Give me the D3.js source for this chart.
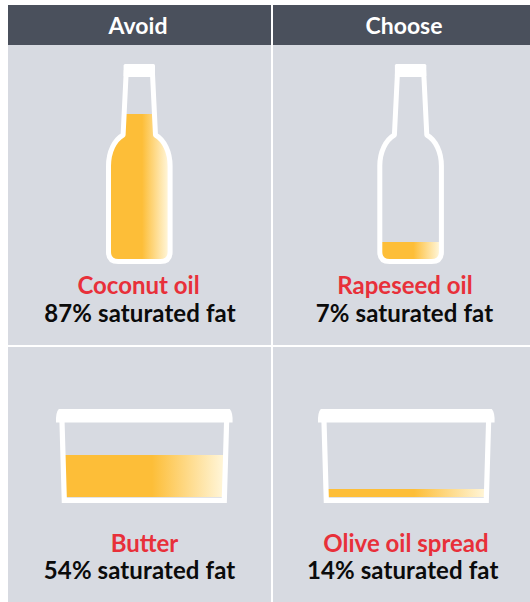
<!DOCTYPE html>
<html>
<head>
<meta charset="utf-8">
<script src="https://cdn.jsdelivr.net/npm/d3@7"></script>
<style>
  html, body { margin: 0; padding: 0; background: #fff; }
  svg { display: block; }
  text { font-family: Lato, sans-serif; text-anchor: middle; }
</style>
</head>
<body>
<div id="chart"></div>
<script>
const columns = ["Avoid", "Choose"];
const bottleFoods = ["Coconut oil", "Rapeseed oil"];
const bottleFat = [87, 7];
const tubFoods = ["Butter", "Olive oil spread"];
const tubFat = [54, 14];

const width = 530, height = 602;
const orange = "#fdbe38", red = "#e8303a", panel = "#d7dae1", dark = "#4a505c", ink = "#0b0b0b";

// fill levels are not quite proportional in the original, so the scales are piecewise
const bottleY = d3.scaleLinear().domain([0, 7, 87]).range([259, 242, 114]);
const tubY = d3.scaleLinear().domain([0, 14, 54]).range([497, 489, 455]);

const svg = d3.select("#chart").append("svg")
    .attr("width", width)
    .attr("height", height);

const defs = svg.append("defs");

// background panels
const colX = [8, 273], colW = [263, 257];
const rowY = [45, 347], rowH = [300, 255];

columns.forEach((c, i) => {
    svg.append("rect").attr("x", colX[i]).attr("y", 5)
        .attr("width", colW[i]).attr("height", 40).attr("fill", dark);
    rowY.forEach((y, j) => {
        svg.append("rect").attr("x", colX[i]).attr("y", y)
            .attr("width", colW[i]).attr("height", rowH[j]).attr("fill", panel);
    });
});

const headerX = [138, 404];
svg.selectAll(".head")
    .data(columns)
    .enter().append("text")
    .attr("class", "head")
    .attr("x", (d, i) => headerX[i])
    .attr("y", 33.5)
    .attr("fill", "#fff")
    .style("font-size", "23px")
    .style("font-weight", 700)
    .text(d => d);

function bottlePath(cx) {
    const p = d3.path();
    p.moveTo(cx - 13, 70);
    p.lineTo(cx - 16.2, 135);
    p.bezierCurveTo(cx - 25, 140, cx - 30.8, 152, cx - 30.8, 166);
    p.lineTo(cx - 30.8, 252);
    p.quadraticCurveTo(cx - 30.8, 261.5, cx - 21, 261.5);
    p.lineTo(cx + 21, 261.5);
    p.quadraticCurveTo(cx + 30.8, 261.5, cx + 30.8, 252);
    p.lineTo(cx + 30.8, 166);
    p.bezierCurveTo(cx + 30.8, 152, cx + 25, 140, cx + 16.2, 135);
    p.lineTo(cx + 13, 70);
    return p.toString();
}

function tubPath(cx) {
    const p = d3.path();
    p.moveTo(cx - 82.5, 415);
    p.lineTo(cx - 80, 500.3);
    p.lineTo(cx + 80, 500.3);
    p.lineTo(cx + 82.5, 415);
    return p.toString();
}

function lidPath(cx) {
    const p = d3.path();
    p.moveTo(cx - 88.3, 422.5);
    p.quadraticCurveTo(cx - 88.6, 412, cx - 85.5, 409);
    p.lineTo(cx + 85.5, 409);
    p.quadraticCurveTo(cx + 88.6, 412, cx + 88.3, 422.5);
    p.closePath();
    return p.toString();
}

function addGradient(id, x1, x2) {
    const g = defs.append("linearGradient").attr("id", id)
        .attr("gradientUnits", "userSpaceOnUse")
        .attr("x1", x1).attr("x2", x2);
    g.append("stop").attr("offset", "55%").attr("stop-color", orange);
    g.append("stop").attr("offset", "100%").attr("stop-color", "#fff4d4");
}

function drawOutline(shape, w, join) {
    svg.append("path").attr("d", shape)
        .attr("fill", "none")
        .attr("stroke", "#fff")
        .attr("stroke-width", w)
        .attr("stroke-linejoin", join);
}

// bottles
const bottleX = [139.3, 410.6];
bottleFat.forEach((v, i) => {
    const cx = bottleX[i];
    const shape = bottlePath(cx);
    defs.append("clipPath").attr("id", "b" + i).append("path").attr("d", shape + "Z");
    addGradient("bf" + i, cx - 28, cx + 28);
    svg.append("rect")
        .attr("clip-path", "url(#b" + i + ")")
        .attr("x", cx - 35).attr("y", bottleY(v))
        .attr("width", 70).attr("height", bottleY(0) + 2 - bottleY(v))
        .attr("fill", "url(#bf" + i + ")");
    drawOutline(shape, 5, "round");
    // cap
    svg.append("rect")
        .attr("x", cx - 15.7).attr("y", 64)
        .attr("width", 31.4).attr("height", 13)
        .attr("rx", 1.5)
        .attr("fill", "#fff");
});

// tubs
const tubX = [144.3, 406.3];
tubFat.forEach((v, i) => {
    const cx = tubX[i];
    const shape = tubPath(cx);
    defs.append("clipPath").attr("id", "t" + i).append("path").attr("d", shape + "Z");
    addGradient("tf" + i, cx - 77, cx + 77);
    svg.append("rect")
        .attr("clip-path", "url(#t" + i + ")")
        .attr("x", cx - 85).attr("y", tubY(v))
        .attr("width", 170).attr("height", tubY(0) - tubY(v))
        .attr("fill", "url(#tf" + i + ")");
    drawOutline(shape, 5.2, "miter");
    svg.append("path").attr("d", lidPath(cx)).attr("fill", "#fff");
});

// labels
function label(name, fat, nameX, fatX, y1, y2) {
    svg.append("text").attr("x", nameX).attr("y", y1)
        .attr("fill", red)
        .style("font-size", "24px").style("font-weight", 700)
        .text(name);
    svg.append("text").attr("x", fatX).attr("y", y2)
        .attr("fill", ink)
        .style("font-size", "24px").style("font-weight", 700)
        .style("letter-spacing", "0.1px")
        .text(fat + "% saturated fat");
}

const bottleNameX = [138.5, 405], bottleFatX = [140, 404.5];
const tubNameX = [144.5, 406], tubFatX = [139.6, 402.7];
bottleFoods.forEach((d, i) => label(d, bottleFat[i], bottleNameX[i], bottleFatX[i], 293.5, 322));
tubFoods.forEach((d, i) => label(d, tubFat[i], tubNameX[i], tubFatX[i], 551.5, 578.5));
</script>
</body>
</html>
